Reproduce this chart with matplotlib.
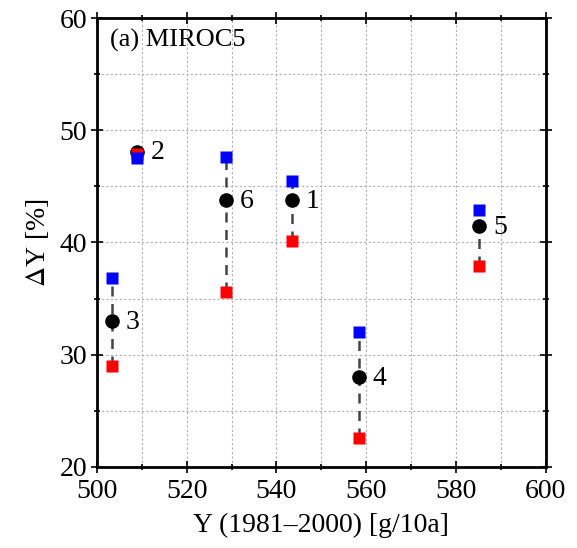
import numpy as np
import matplotlib.pyplot as plt

plt.rcParams['font.family'] = ['Liberation Serif', 'DejaVu Serif']
plt.rcParams['mathtext.fontset'] = 'stix'

# regions 1..6
labels = ['1', '2', '3', '4', '5', '6']
yield_base = [543.5, 508.9, 503.3, 558.4, 585.1, 528.7]
dY_mean = [43.8, 48.1, 33.0, 28.0, 41.5, 43.8]
dY_high = [45.5, 47.5, 36.8, 32.0, 42.9, 47.6]   # blue
dY_low = [40.1, 47.9, 29.0, 22.6, 37.9, 35.6]    # red

fig = plt.figure(figsize=(5.77, 5.48), dpi=100)
ax = fig.add_axes([0.168, 0.148, 0.778, 0.819])

for i in range(len(labels)):
    ax.plot([yield_base[i], yield_base[i]], [dY_low[i], dY_high[i]],
            color='#444444', lw=1.8, dashes=(4, 3), zorder=2)
ax.plot(yield_base, dY_mean, 'o', color='black', ms=9.5, zorder=3)
ax.plot(yield_base, dY_low, 's', color='red', ms=9, mec='none', zorder=4)
ax.plot(yield_base, dY_high, 's', color='blue', ms=9, mec='none', zorder=5)

for i in range(len(labels)):
    ax.annotate(labels[i], (yield_base[i], dY_mean[i]), xytext=(10, -1),
                textcoords='offset points', va='center', ha='left', fontsize=20)

ax.set_xlim(500, 600)
ax.set_ylim(20, 60)
ax.set_xticks(np.arange(500, 601, 20))
ax.set_yticks(np.arange(20, 61, 10))
ax.set_xticks(np.arange(500, 601, 10), minor=True)
ax.set_yticks(np.arange(20, 61, 5), minor=True)
ax.grid(True, which='both', color='#b0b0b0', ls=(0, (2, 2)), lw=0.8)
ax.tick_params(which='both', direction='inout', top=True, right=True,
               labelsize=20, width=1.2)
ax.tick_params(axis='x', pad=5)
ax.tick_params(axis='y', pad=3)
ax.tick_params(which='major', length=8)
ax.tick_params(which='minor', length=5)
for sp in ax.spines.values():
    sp.set_linewidth(2)

ax.set_xlabel('Y (1981–2000) [g/10a]', fontsize=20, labelpad=6)
ax.set_ylabel(r'$\Delta$Y [%]', fontsize=20, labelpad=6)
ax.text(0.03, 0.975, '(a) MIROC5', transform=ax.transAxes, fontsize=19,
        va='top', ha='left')

fig.savefig('out.png', dpi=100)
